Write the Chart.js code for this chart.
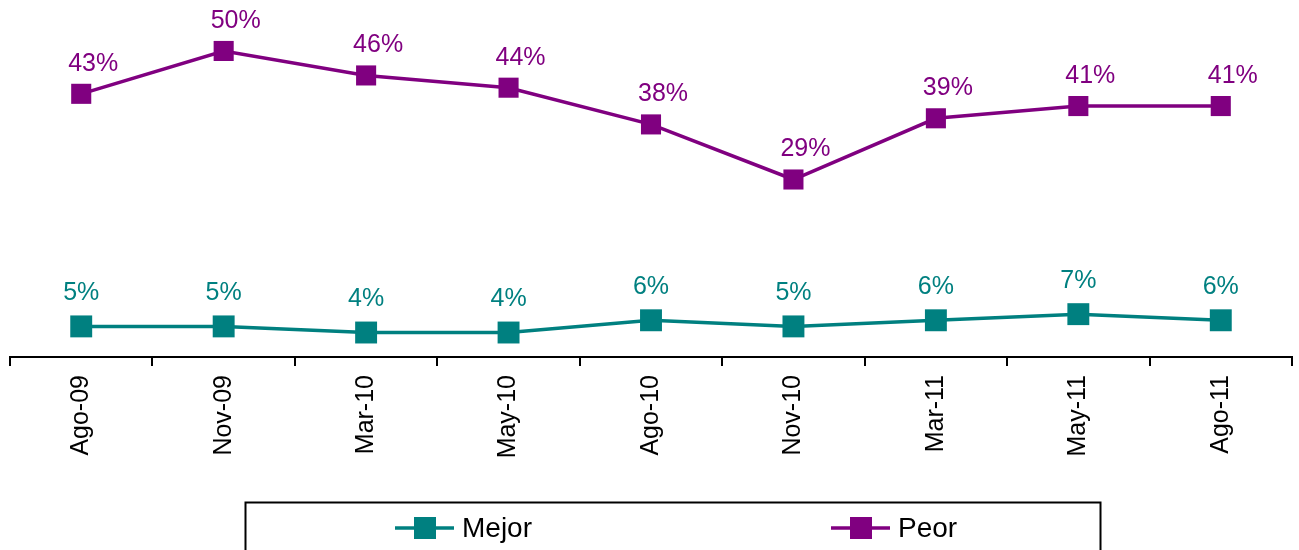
<!DOCTYPE html>
<html>
<head>
<meta charset="utf-8">
<script src="https://cdn.jsdelivr.net/npm/chart.js@4"></script>
<style>
  html, body { margin: 0; padding: 0; background: #fff; }
  #wrap { width: 1299px; height: 550px; position: relative; }
</style>
</head>
<body>
<div id="wrap"><canvas id="chart"></canvas></div>
<script>
// values
const periods = ["Ago-09", "Nov-09", "Mar-10", "May-10", "Ago-10", "Nov-10", "Mar-11", "May-11", "Ago-11"];
const mejor = [5, 5, 4, 4, 6, 5, 6, 7, 6];
const peor = [43, 50, 46, 44, 38, 29, 39, 41, 41];

const FONT = '"Liberation Sans", Arial, sans-serif';
const TEAL = "#008080";
const PURPLE = "#800080";

// percent labels above each point; offsets per series (Excel put them by hand)
const pointLabels = {
  id: "pointLabels",
  afterDatasetsDraw(chart) {
    const ctx = chart.ctx;
    ctx.save();
    ctx.font = "25px " + FONT;
    ctx.textAlign = "center";
    ctx.textBaseline = "middle";
    chart.data.datasets.forEach((ds, di) => {
      const meta = chart.getDatasetMeta(di);
      const off = ds.labelOffset || { x: 0, y: -32 };
      ctx.fillStyle = ds.borderColor;
      meta.data.forEach((pt, i) => {
        ctx.fillText(ds.data[i] + "%", pt.x + off.x, pt.y + off.y);
      });
    });
    ctx.restore();
  },
};

// boxed legend at the bottom: line + square marker, then the series name
const boxedLegend = {
  id: "boxedLegend",
  afterDraw(chart) {
    const ctx = chart.ctx;
    const box = { left: 245, top: 502, right: 1100 };
    const itemX = [395, 831];
    const y = 528;
    ctx.save();
    ctx.strokeStyle = "#000";
    ctx.lineWidth = 2;
    ctx.strokeRect(box.left + 0.5, box.top + 0.5, box.right - box.left, chart.height);
    ctx.font = "28px " + FONT;
    ctx.textBaseline = "middle";
    ctx.textAlign = "left";
    chart.data.datasets.forEach((ds, di) => {
      const x = itemX[di];
      ctx.strokeStyle = ds.borderColor;
      ctx.lineWidth = 3.5;
      ctx.beginPath();
      ctx.moveTo(x, y);
      ctx.lineTo(x + 59, y);
      ctx.stroke();
      ctx.fillStyle = ds.borderColor;
      ctx.fillRect(x + 19, y - 11, 22, 22);
      ctx.fillStyle = "#000";
      ctx.fillText(ds.label, x + 67, y + 1);
    });
    ctx.restore();
  },
};

new Chart(document.getElementById("chart"), {
  type: "line",
  data: {
    labels: periods,
    datasets: [
      {
        label: "Mejor",
        data: mejor,
        borderColor: TEAL,
        backgroundColor: TEAL,
        borderWidth: 3.5,
        pointStyle: "rect",
        pointRadius: 15.5,
        pointBorderWidth: 0,
        labelOffset: { x: 0, y: -33 },
      },
      {
        label: "Peor",
        data: peor,
        borderColor: PURPLE,
        backgroundColor: PURPLE,
        borderWidth: 3.5,
        pointStyle: "rect",
        pointRadius: 14.2,
        pointBorderWidth: 0,
        labelOffset: { x: 12, y: -30 },
      },
    ],
  },
  options: {
    responsive: true,
    maintainAspectRatio: false,
    animation: false,
    clip: false,
    layout: { autoPadding: false, padding: { left: 10, right: 7, top: 2, bottom: 88 } },
    plugins: {
      legend: { display: false },
      tooltip: { enabled: false },
    },
    scales: {
      x: {
        offset: true,
        border: { display: true, color: "#000", width: 2 },
        grid: { offset: true, drawOnChartArea: false, drawTicks: true, tickLength: 9, color: "#000", lineWidth: 2 },
        ticks: { color: "#000", font: { family: FONT, size: 25 }, minRotation: 90, maxRotation: 90, padding: 9 },
        afterFit: (scale) => {
          scale.height = 105;
          scale.paddingLeft = 0;
          scale.paddingRight = 0;
        },
      },
      y: { display: false, min: 0, max: 58 },
    },
  },
  plugins: [pointLabels, boxedLegend],
});
</script>
</body>
</html>
